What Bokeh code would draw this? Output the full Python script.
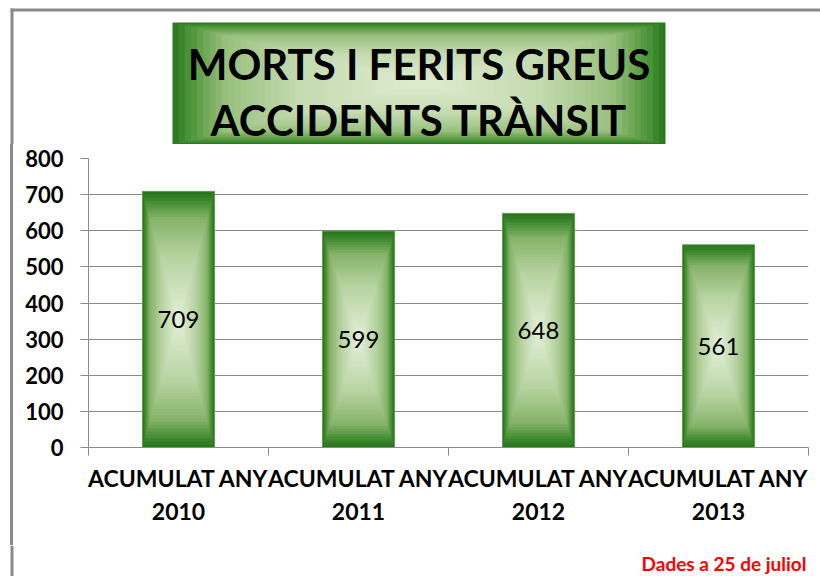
import numpy as np
from bokeh.plotting import figure
from bokeh.layouts import column, row
from bokeh.models import Range1d, LinearAxis, FixedTicker
from bokeh.core.properties import value
from bokeh.embed import file_html
from bokeh.resources import INLINE

# ---- data ----
categories = ["ACUMULAT ANY\n2010", "ACUMULAT ANY\n2011", "ACUMULAT ANY\n2012", "ACUMULAT ANY\n2013"]
values = [709, 599, 648, 561]
y_ticks = [0, 100, 200, 300, 400, 500, 600, 700, 800]
title_lines = ["MORTS I FERITS GREUS", "ACCIDENTS TRÀNSIT"]
note = "Dades a 25 de juliol"

FONT = "Lato"
GRAY = "#8a8a8a"

def grad(t, stops):
    ts = [s[0] for s in stops]
    cols = [tuple(int(s[1][i:i + 2], 16) for i in (1, 3, 5)) for s in stops]
    r = np.interp(t, ts, [c[0] for c in cols])
    g = np.interp(t, ts, [c[1] for c in cols])
    b = np.interp(t, ts, [c[2] for c in cols])
    return "#%02x%02x%02x" % (int(r), int(g), int(b))

bar_stops = [(0.0, "#2a771e"), (0.06, "#3f8a2f"), (0.2, "#86b36a"), (0.5, "#b7d3a0"), (1.0, "#e6f1dc")]
title_stops = [(0.0, "#2b7a1f"), (0.05, "#4a9236"), (0.2, "#98c07d"), (0.5, "#c4dbb0"), (1.0, "#e0ecd2")]

def blank_fig(w, h, x0, x1, y_top, y_bot):
    f = figure(width=w, height=h, output_backend="svg", toolbar_location=None,
               x_range=Range1d(x0, x1), y_range=Range1d(y_bot, y_top),
               x_axis_location=None, y_axis_location=None, min_border=0)
    f.outline_line_color = None
    f.grid.visible = False
    f.border_fill_color = "white"
    f.background_fill_color = "white"
    return f

# ---------- top strip: frame lines + title box ----------
TOP_H = 144
top = blank_fig(820, TOP_H, 0, 820, 0, TOP_H)
top.quad(left=[10], right=[820], top=[8], bottom=[11], fill_color=GRAY, line_color=None)
top.quad(left=[10], right=[13], top=[8], bottom=[TOP_H], fill_color=GRAY, line_color=None)
L, R, T, B = 172, 665, 22, TOP_H
cx, cy, hw, hh = (L + R) / 2, (T + B) / 2, (R - L) / 2, (B - T) / 2
NT = 40
for k in range(NT):
    t = k / NT
    top.quad(left=[cx - hw * (1 - t)], right=[cx + hw * (1 - t)], top=[cy - hh * (1 - t)],
             bottom=[cy + hh * (1 - t)], fill_color=grad(t, title_stops), line_color=None)
top.text(x=[cx, cx], y=[63, 119], text=title_lines, text_align="center", text_baseline="middle",
         text_font=value(FONT), text_font_style="bold", text_font_size="42px", text_color="black")

# ---------- main chart ----------
MID_TOP, MID_BOT = TOP_H, 545
n = len(categories)
centers = np.arange(n) + 0.5
edges = list(range(n + 1))

p = figure(width=820, height=MID_BOT - MID_TOP, output_backend="svg", toolbar_location=None,
           x_range=Range1d(0, n), y_range=Range1d(0, 800), x_axis_location=None,
           min_border_left=88, min_border_right=12, min_border_top=158 - MID_TOP,
           min_border_bottom=MID_BOT - 447,
           styles={"background": "linear-gradient(%s, %s) 10px 0px / 3px 100%% no-repeat" % (GRAY, GRAY)})
p.outline_line_color = None
p.background_fill_color = "white"
p.border_fill_alpha = 0

ya = p.yaxis[0]
ya.ticker = FixedTicker(ticks=y_ticks)
ya.axis_line_color = GRAY
ya.major_tick_line_color = GRAY
ya.major_tick_out = 8
ya.major_tick_in = 0
ya.minor_tick_line_color = None
ya.major_label_standoff = 17
ya.major_label_text_font = FONT
ya.major_label_text_font_style = "bold"
ya.major_label_text_font_size = "22px"
ya.major_label_text_color = "black"

p.xgrid.visible = False
p.ygrid.ticker = FixedTicker(ticks=y_ticks)
p.ygrid.grid_line_color = GRAY
p.ygrid.grid_line_width = 1

tick_axis = LinearAxis(ticker=FixedTicker(ticks=edges),
                       major_label_overrides={e: "" for e in edges},
                       major_tick_out=8, major_tick_in=0, minor_tick_line_color=None,
                       axis_line_color=GRAY, major_tick_line_color=GRAY,
                       major_label_text_font_size="10px", major_label_standoff=0)
p.add_layout(tick_axis, "below")
label_axis = LinearAxis(ticker=FixedTicker(ticks=list(centers)),
                        major_label_overrides={float(c): lab for c, lab in zip(centers, categories)},
                        major_tick_line_color=None, minor_tick_line_color=None, axis_line_color=None,
                        major_label_standoff=2, major_label_text_font=FONT,
                        major_label_text_font_style="bold", major_label_text_font_size="23px",
                        major_label_text_color="black", major_label_text_line_height=1.2)
p.add_layout(label_axis, "below")

vals = np.array(values, dtype=float)
W = 0.4
N = 40
for k in range(N):
    t = k / N
    p.vbar(x=centers, width=W * (1 - t), bottom=vals * t / 2, top=vals * (1 - t / 2),
           fill_color=grad(t, bar_stops), line_color=("#5e9c4c" if k == 0 else None), line_width=1)

p.text(x=centers, y=vals / 2, text=[str(v) for v in values], text_align="center",
       text_baseline="middle", text_font=value(FONT), text_font_size="24px", text_color="black")

# ---------- bottom strip: frame line + note ----------
bot = blank_fig(820, 576 - MID_BOT, 0, 820, MID_BOT, 576)
bot.quad(left=[10], right=[13], top=[MID_BOT], bottom=[576], fill_color=GRAY, line_color=None)
bot.text(x=[806], y=[563], text=[note], text_align="right", text_baseline="middle",
         text_font=value(FONT), text_font_style="bold", text_font_size="19px", text_color="#ff0000")

layout = column(top, row(p), bot)
open("out.html", "w").write(file_html(layout, INLINE))
